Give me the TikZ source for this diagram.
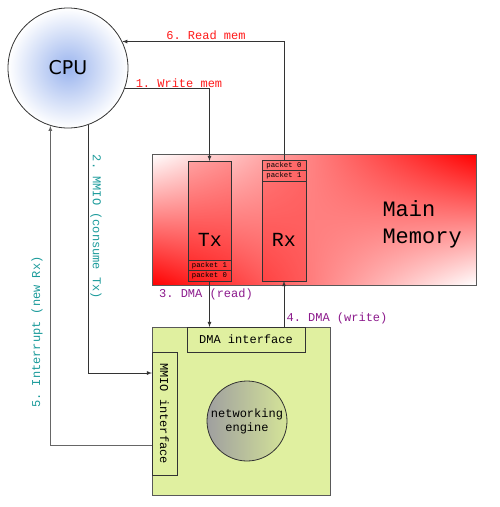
\documentclass[tikz,border=0pt]{standalone}
\usepackage{fontspec}
\setmonofont{Liberation Mono}
\setsansfont{DejaVu Sans}
\usepackage{tikz}
\usetikzlibrary{
	arrows,shapes,shadings
}
\definecolor{memred}{HTML}{FF0000}
\definecolor{lblred}{HTML}{FF1A1A}
\definecolor{lblteal}{HTML}{1A9A9A}
\definecolor{lblpurple}{HTML}{8C1A8C}
\definecolor{nicgreen}{HTML}{E0F0A0}
\definecolor{cpublue}{HTML}{9AB4EE}

\begin{document}
\begin{tikzpicture}[x=1pt,y=-1pt,
		box/.style={draw=black!80,line width=0.8pt,inner sep=0pt,outer sep=0pt},
		ring/.style={fill=memred,fill opacity=0.25,text opacity=1},
		pkt/.style={box,minimum height=10.5pt,font=\ttfamily\fontsize{7.3}{8}\selectfont},
		lbl/.style={font=\ttfamily\fontsize{12}{14}\selectfont},
		conn/.style={->,>=latex,draw=black!80,line width=0.8pt}]
		\useasboundingbox (0,0) rectangle (500,507);
		%
		\node[circle,draw=black!80,line width=0.8pt,minimum size=120pt,inner sep=0pt,
			inner color=cpublue,outer color=white,font=\sffamily\fontsize{19}{22}\selectfont] (cpu) at (68,68) {CPU};
		\node[box,draw=black!65,minimum width=324pt,minimum height=131pt,anchor=north west,
			upper left=white,upper right=memred,lower left=memred,lower right=white] (mem) at (152,154) {};
		\node[font=\ttfamily\fontsize{22}{27}\selectfont,align=left,anchor=west] (memname) at (379,224) {Main\\Memory};
		%
		\node[box,ring,minimum width=43pt,minimum height=120pt,anchor=north west] (tx) at (188,161) {};
		\node[pkt,minimum width=43pt,anchor=south] (txp0) at (tx.south) {packet 0};
		\node[pkt,minimum width=43pt,anchor=south] (txp1) at (txp0.north) {packet 1};
		\node[font=\ttfamily\fontsize{20}{22}\selectfont] (txname) at (210,240) {Tx};
		%
		\node[box,ring,minimum width=44pt,minimum height=121pt,anchor=north west] (rx) at (262,160) {};
		\node[pkt,minimum width=44pt,anchor=north] (rxp0) at (rx.north) {packet 0};
		\node[pkt,minimum width=44pt,anchor=north] (rxp1) at (rxp0.south) {packet 1};
		\node[font=\ttfamily\fontsize{20}{22}\selectfont] (rxname) at (284,240) {Rx};
		%
		\node[box,draw=black!65,fill=nicgreen,minimum width=178pt,minimum height=168pt,anchor=north west] (nic) at (152,327) {};
		\node[box,lbl,minimum width=118pt,minimum height=25pt,anchor=north west] (dma) at (187,327) {DMA interface};
		\node[box,minimum width=25pt,minimum height=123pt,anchor=north west] (mmio) at (152,352) {};
		\node[lbl,rotate=-90] (mmioname) at (mmio.center) {MMIO interface};
		\node[circle,draw=black!80,line width=0.8pt,minimum size=80pt,inner sep=0pt,
			left color=gray!75,right color=nicgreen!95!black,lbl,align=center] (eng) at (247,421) {networking\\engine};
		%
		\coordinate (mmioin) at (152,373);
		\coordinate (intout) at (152,445);
		\draw[conn] (cpu.-20) -| (tx.north);
		\draw[conn] (rx.north) |- (cpu.26);
		\draw[conn] (tx.south) -- (tx.south |- dma.north);
		\draw[conn] (rx.south |- dma.north) -- (rx.south);
		\draw[conn] (cpu.-70) |- (mmioin);
		\draw[conn,draw=black!60] (intout) -| (cpu.-107);
		%
		\node[lbl,text=lblred] (readlbl) at (206,35) {6. Read mem};
		\node[lbl,text=lblred] (writelbl) at (179,83) {1. Write mem};
		\node[lbl,text=lblteal,rotate=-90] (mmiolbl) at (96,227) {2. MMIO (consume Tx)};
		\node[lbl,text=lblteal,rotate=90] (intlbl) at (37,332) {5. Interrupt (new Rx)};
		\node[lbl,text=lblpurple] (dmardlbl) at (206,294) {3. DMA (read)};
		\node[lbl,text=lblpurple] (dmawrlbl) at (337,318) {4. DMA (write)};
	\end{tikzpicture}
\end{document}
